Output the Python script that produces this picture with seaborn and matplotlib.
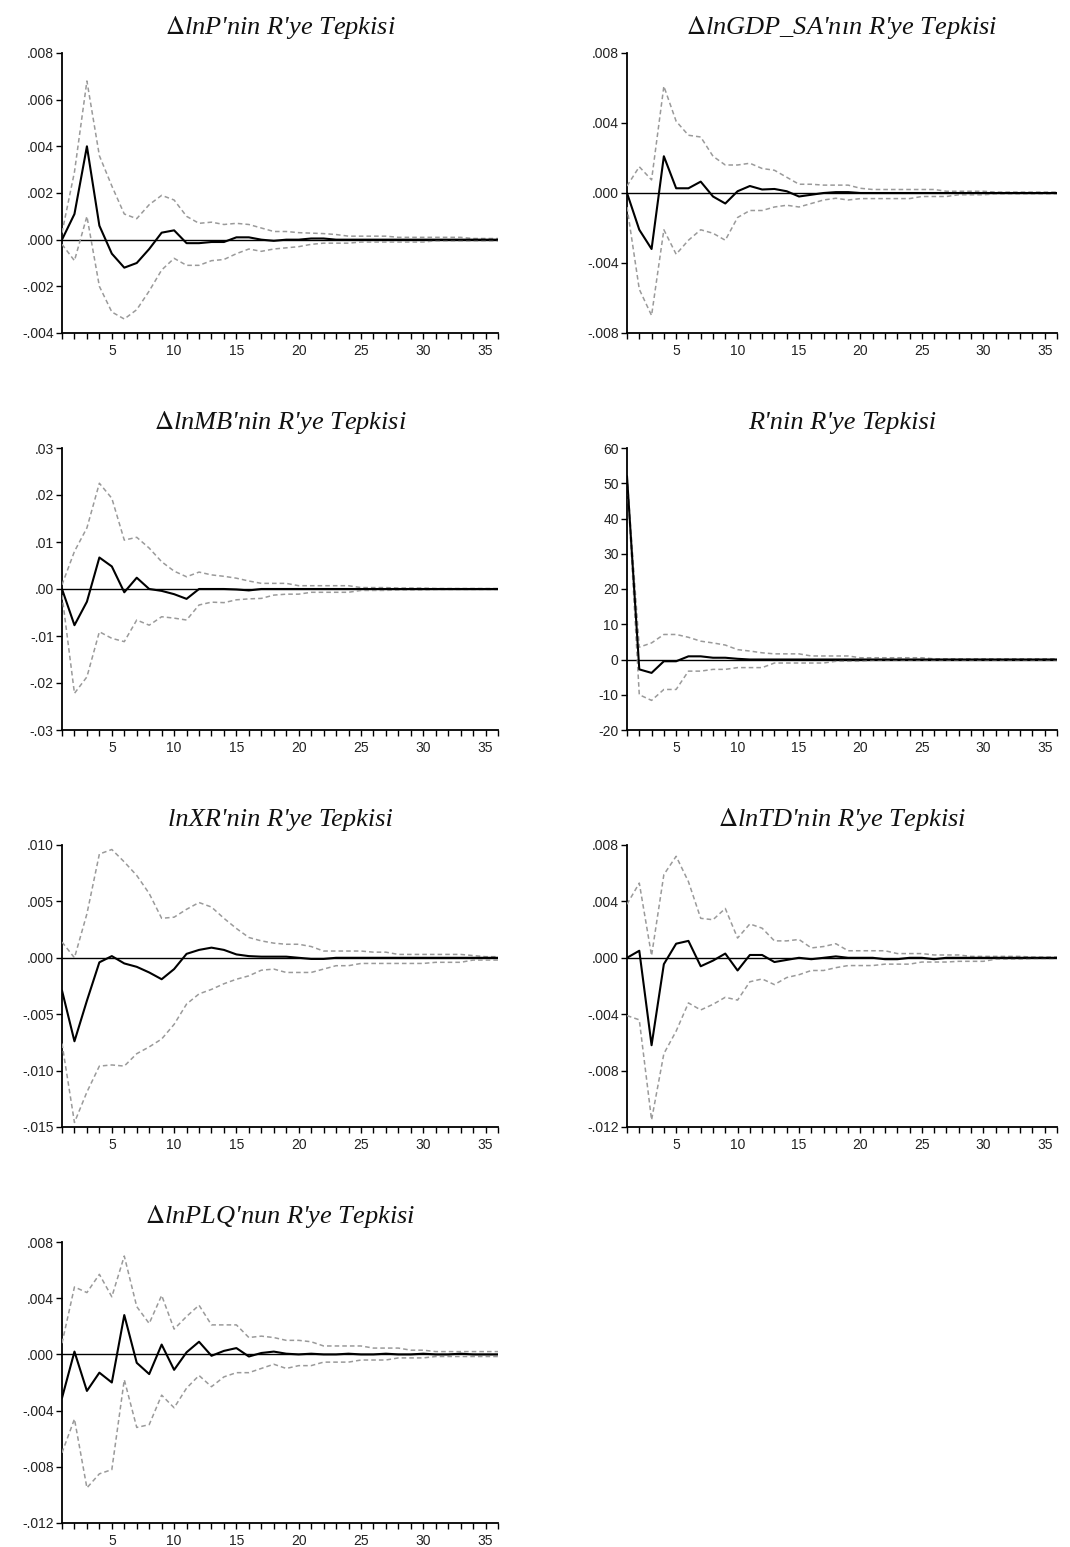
import numpy as np
import pandas as pd
import matplotlib
matplotlib.use("Agg")
import matplotlib.pyplot as plt
from matplotlib.ticker import FuncFormatter, FixedLocator
import seaborn as sns

# ---------------- data ----------------
periods = list(range(1, 37))

titles = [
    r"$\Delta$lnP'nin R'ye Tepkisi",
    r"$\Delta$lnGDP_SA'nın R'ye Tepkisi",
    r"$\Delta$lnMB'nin R'ye Tepkisi",
    "R'nin R'ye Tepkisi",
    "lnXR'nin R'ye Tepkisi",
    r"$\Delta$lnTD'nin R'ye Tepkisi",
    r"$\Delta$lnPLQ'nun R'ye Tepkisi",
]

p_resp = [0, 0.0011, 0.0040, 0.0006, -0.0006, -0.0012,
          -0.0010, -0.0004, 0.0003, 0.0004, -0.00015, -0.00015,
          -0.0001, -0.0001, 0.0001, 0.0001, 0.0, -0.00005,
          0.0, 0.0, 0.00005, 0.00005, 0, 0,
          0, 0, 0, 0, 0, 0,
          0, 0, 0, 0, 0, 0]
p_up = [0.0003, 0.0029, 0.0068, 0.0036, 0.0023, 0.0011,
        0.0009, 0.0015, 0.0019, 0.0017, 0.0010, 0.0007,
        0.00075, 0.00065, 0.0007, 0.00065, 0.0005, 0.00035,
        0.00035, 0.0003, 0.00028, 0.00026, 0.00022, 0.00015,
        0.00015, 0.00015, 0.00015, 0.0001, 0.0001, 0.0001,
        0.0001, 0.0001, 0.0001, 0.00005, 0.00005, 0.00005]
p_lo = [-0.0002, -0.0009, 0.0010, -0.0020, -0.0031, -0.0034,
        -0.0030, -0.0022, -0.0013, -0.0008, -0.0011, -0.0011,
        -0.0009, -0.00085, -0.0006, -0.0004, -0.0005, -0.0004,
        -0.00035, -0.0003, -0.0002, -0.00015, -0.00015, -0.00015,
        -0.0001, -0.0001, -0.0001, -0.0001, -0.0001, -0.0001,
        -0.00005, -0.00005, -0.00005, -0.00005, -0.00005, -0.00005]

gdp_resp = [0, -0.0021, -0.0032, 0.0021, 0.00027, 0.00027,
            0.00065, -0.0002, -0.0006, 0.0001, 0.0004, 0.0002,
            0.00023, 0.0001, -0.0002, -0.0001, 0.0, 0.00005,
            0.00005, 0, 0, 0, 0, 0,
            0, 0, 0, 0, 0, 0,
            0, 0, 0, 0, 0, 0]
gdp_up = [0.0004, 0.0015, 0.00075, 0.0061, 0.0041, 0.0033,
          0.0032, 0.0021, 0.0016, 0.0016, 0.0017, 0.0014,
          0.0013, 0.0009, 0.0005, 0.0005, 0.00045, 0.00045,
          0.00045, 0.00027, 0.0002, 0.0002, 0.0002, 0.0002,
          0.0002, 0.0002, 0.0001, 0.0001, 0.0001, 0.0001,
          0.00005, 0.00005, 0.00005, 0.00005, 0.00005, 0.00005]
gdp_lo = [-0.0008, -0.0055, -0.0070, -0.0021, -0.0035, -0.0027,
          -0.0021, -0.0023, -0.0027, -0.0014, -0.0010, -0.0010,
          -0.0008, -0.0007, -0.0008, -0.0006, -0.0004, -0.0003,
          -0.0004, -0.00032, -0.00032, -0.00032, -0.00032, -0.00032,
          -0.0002, -0.0002, -0.0002, -0.0001, -0.0001, -0.0001,
          -0.00005, -0.00005, -0.00005, -0.00005, -0.00005, -0.00005]

mb_resp = [0, -0.0077, -0.0027, 0.0067, 0.0048, -0.0007,
           0.0024, 0.0, -0.0004, -0.0011, -0.0021, 0.0,
           0, 0, -0.0001, -0.0003, 0, 0,
           0, 0, 0, 0, 0, 0,
           0, 0, 0, 0, 0, 0,
           0, 0, 0, 0, 0, 0]
mb_up = [0.0009, 0.0080, 0.0130, 0.0225, 0.0193, 0.0104,
         0.0110, 0.0087, 0.0058, 0.0038, 0.0026, 0.0036,
         0.0030, 0.0027, 0.0023, 0.0017, 0.0012, 0.0012,
         0.0012, 0.0007, 0.0007, 0.0007, 0.0007, 0.0007,
         0.0003, 0.0003, 0.0003, 0.0002, 0.0002, 0.0002,
         0.0001, 0.0001, 0.0001, 0.0001, 0.0001, 0.0001]
mb_lo = [-0.0013, -0.0222, -0.0187, -0.0091, -0.0105, -0.0112,
         -0.0066, -0.0077, -0.0059, -0.0062, -0.0066, -0.0034,
         -0.0028, -0.0029, -0.0023, -0.0021, -0.0020, -0.0013,
         -0.0011, -0.0011, -0.0007, -0.0007, -0.0007, -0.0007,
         -0.0003, -0.0003, -0.0003, -0.0002, -0.0002, -0.0002,
         -0.0001, -0.0001, -0.0001, -0.0001, -0.0001, -0.0001]

r_resp = [52, -2.8, -3.8, -0.5, -0.5, 0.9,
          0.9, 0.5, 0.5, 0.2, 0, 0,
          0, 0, 0, 0, 0, 0,
          0, 0, 0, 0, 0, 0,
          0, 0, 0, 0, 0, 0,
          0, 0, 0, 0, 0, 0]
r_up = [52, 3.5, 4.7, 7.1, 7.1, 6.3,
        5.2, 4.7, 4.1, 2.8, 2.4, 1.9,
        1.6, 1.6, 1.6, 1.0, 1.0, 1.0,
        1.0, 0.5, 0.5, 0.5, 0.5, 0.5,
        0.5, 0.2, 0.2, 0.2, 0.2, 0.2,
        0.2, 0.2, 0.2, 0.2, 0.2, 0.2]
r_lo = [52, -10.0, -11.6, -8.5, -8.5, -3.3,
        -3.3, -2.8, -2.8, -2.3, -2.3, -2.3,
        -1.0, -1.0, -1.0, -1.0, -1.0, -0.5,
        -0.5, -0.5, -0.2, -0.2, -0.2, -0.2,
        -0.2, -0.2, -0.2, -0.2, -0.2, -0.2,
        -0.2, -0.2, -0.2, -0.2, -0.2, -0.2]

xr_resp = [-0.0029, -0.0074, -0.0038, -0.0004, 0.00015, -0.0005,
           -0.0008, -0.0013, -0.0019, -0.0010, 0.00035, 0.0007,
           0.0009, 0.0007, 0.0003, 0.00015, 0.0001, 0.0001,
           0.0001, 0.0, -0.0001, -0.0001, 0, 0,
           0, 0, 0, 0, 0, 0,
           0, 0, 0, 0, 0, 0]
xr_up = [0.0014, 0.0000, 0.0039, 0.0092, 0.0096, 0.0085,
         0.0073, 0.0057, 0.0035, 0.0036, 0.0043, 0.0049,
         0.0045, 0.0035, 0.0026, 0.0018, 0.0015, 0.0013,
         0.0012, 0.0012, 0.0010, 0.0006, 0.0006, 0.0006,
         0.0006, 0.0005, 0.0005, 0.0003, 0.0003, 0.0003,
         0.0003, 0.0003, 0.0003, 0.0002, 0.0001, 0.0001]
xr_lo = [-0.0076, -0.0146, -0.0119, -0.0096, -0.0095, -0.0096,
         -0.0085, -0.0079, -0.0072, -0.0059, -0.0041, -0.0032,
         -0.0028, -0.0023, -0.0019, -0.0016, -0.0011, -0.0010,
         -0.0013, -0.0013, -0.0013, -0.0010, -0.0007, -0.0007,
         -0.0005, -0.0005, -0.0005, -0.0005, -0.0005, -0.0005,
         -0.0004, -0.0004, -0.0004, -0.0002, -0.0002, -0.0002]

td_resp = [0, 0.0005, -0.0062, -0.00045, 0.0010, 0.0012,
           -0.0006, -0.0002, 0.0003, -0.0009, 0.0002, 0.0002,
           -0.0003, -0.00015, 0.0, -0.0001, 0.0, 0.0001,
           0, 0, 0, -0.0001, -0.0001, 0,
           0, -0.0001, 0, 0, 0, 0,
           0, 0, 0, 0, 0, 0]
td_up = [0.0038, 0.0053, 0.00015, 0.0059, 0.0072, 0.0054,
         0.0028, 0.0027, 0.0035, 0.0014, 0.0024, 0.0021,
         0.0012, 0.0012, 0.0013, 0.0007, 0.0008, 0.0010,
         0.0005, 0.0005, 0.0005, 0.0005, 0.0003, 0.0003,
         0.0003, 0.0002, 0.0002, 0.0002, 0.0001, 0.0001,
         0.0001, 0.0001, 0.0001, 0.00005, 0.00005, 0.00005]
td_lo = [-0.0041, -0.0044, -0.0115, -0.0068, -0.0052, -0.0032,
         -0.0037, -0.0033, -0.0028, -0.0030, -0.0017, -0.0015,
         -0.0019, -0.0014, -0.0012, -0.0009, -0.0009, -0.0007,
         -0.00055, -0.00055, -0.00055, -0.00045, -0.00045, -0.00045,
         -0.0003, -0.0003, -0.0003, -0.00025, -0.00025, -0.00025,
         -0.0001, -0.0001, -0.0001, -0.00005, -0.00005, -0.00005]

plq_resp = [-0.0031, 0.0002, -0.0026, -0.0013, -0.0020, 0.0028,
            -0.0006, -0.0014, 0.0007, -0.0011, 0.00015, 0.0009,
            -0.0001, 0.00025, 0.00045, -0.00015, 0.0001, 0.0002,
            0.00005, 0, 0.00005, 0, 0, 0.00005,
            0, 0, 0.00005, 0, 0, 0.00005,
            0, 0, 0.00005, 0, 0, 0]
plq_up = [0.0008, 0.0048, 0.0044, 0.0057, 0.0041, 0.0070,
          0.0034, 0.0022, 0.0042, 0.0018, 0.0027, 0.0035,
          0.0021, 0.0021, 0.0021, 0.0012, 0.0013, 0.0012,
          0.0010, 0.0010, 0.0009, 0.0006, 0.0006, 0.0006,
          0.0006, 0.00045, 0.00045, 0.00045, 0.0003, 0.0003,
          0.0002, 0.0002, 0.0002, 0.0002, 0.0002, 0.0002]
plq_lo = [-0.0070, -0.0046, -0.0095, -0.0085, -0.0082, -0.0018,
          -0.0052, -0.0050, -0.0029, -0.0038, -0.0024, -0.0015,
          -0.0023, -0.0016, -0.0013, -0.0013, -0.0010, -0.0007,
          -0.0010, -0.0008, -0.0008, -0.00055, -0.00055, -0.00055,
          -0.0004, -0.0004, -0.0004, -0.00025, -0.00025, -0.00025,
          -0.00015, -0.00015, -0.00015, -0.00015, -0.00015, -0.00015]

y_ticks = [
    [-0.004, -0.002, 0.0, 0.002, 0.004, 0.006, 0.008],
    [-0.008, -0.004, 0.0, 0.004, 0.008],
    [-0.03, -0.02, -0.01, 0.0, 0.01, 0.02, 0.03],
    [-20, -10, 0, 10, 20, 30, 40, 50, 60],
    [-0.015, -0.010, -0.005, 0.0, 0.005, 0.010],
    [-0.012, -0.008, -0.004, 0.0, 0.004, 0.008],
    [-0.012, -0.008, -0.004, 0.0, 0.004, 0.008],
]
y_decimals = [3, 3, 2, 0, 3, 3, 3]
x_major = [5, 10, 15, 20, 25, 30, 35]

series = [
    (p_resp, p_up, p_lo),
    (gdp_resp, gdp_up, gdp_lo),
    (mb_resp, mb_up, mb_lo),
    (r_resp, r_up, r_lo),
    (xr_resp, xr_up, xr_lo),
    (td_resp, td_up, td_lo),
    (plq_resp, plq_up, plq_lo),
]

# ---------------- style ----------------
sns.set_theme(style="ticks")
plt.rcParams['font.family'] = ['Liberation Sans', 'DejaVu Sans']
plt.rcParams['mathtext.fontset'] = 'stix'

W, H = 1070, 1547
fig = plt.figure(figsize=(W / 100, H / 100), dpi=100)
fig.patch.set_facecolor("white")

# axes boxes in pixels: (left, top, right, bottom)
cols = [(62, 498), (627, 1057)]
rows = [(53, 333), (448, 730), (845, 1127), (1242, 1523)]


def make_fmt(d):
    def f(v, pos):
        if d == 0:
            return f"{int(round(v))}"
        s = f"{abs(v):.{d}f}"
        if s.startswith("0"):
            s = s[1:]
        if v < 0 and float(s) != 0:
            s = "-" + s
        return s
    return f


for i, (title, (resp, up, lo)) in enumerate(zip(titles, series)):
    r, c = divmod(i, 2)
    l, rr = cols[c]
    t, b = rows[r]
    ax = fig.add_axes([l / W, 1 - b / H, (rr - l) / W, (b - t) / H])
    ax.set_facecolor("white")

    df = pd.DataFrame({"period": periods, "resp": resp, "up": up, "lo": lo})
    ax.axhline(0, color="black", lw=1.0, zorder=2)
    for col in ["up", "lo"]:
        sns.lineplot(data=df, x="period", y=col, ax=ax, color="#9a9a9a",
                     lw=1.1, dashes=False, linestyle=(0, (3, 2)), zorder=3)
    sns.lineplot(data=df, x="period", y="resp", ax=ax, color="black",
                 lw=1.5, zorder=4)

    ax.set_xlim(1, 36)
    ax.set_ylim(y_ticks[i][0], y_ticks[i][-1])
    ax.yaxis.set_major_locator(FixedLocator(y_ticks[i]))
    ax.yaxis.set_major_formatter(FuncFormatter(make_fmt(y_decimals[i])))
    ax.xaxis.set_major_locator(FixedLocator(x_major))
    ax.xaxis.set_minor_locator(FixedLocator(periods))
    ax.set_xlabel("")
    ax.set_ylabel("")
    ax.grid(False)

    for s in ["top", "right"]:
        ax.spines[s].set_visible(False)
    for s in ["left", "bottom"]:
        ax.spines[s].set_color("black")
        ax.spines[s].set_linewidth(1.3)

    ax.tick_params(axis="both", which="both", direction="out", color="black",
                   width=1.0, labelsize=10, labelcolor="#222222")
    ax.tick_params(axis="y", which="major", length=4, pad=2)
    ax.tick_params(axis="x", which="major", length=4, pad=4)
    ax.tick_params(axis="x", which="minor", length=4)

    ax.set_title(title, fontsize=19, fontstyle="italic",
                 family=["Liberation Serif", "DejaVu Serif"], pad=14,
                 color="#111111")

fig.savefig("out.png", dpi=100, facecolor="white")
